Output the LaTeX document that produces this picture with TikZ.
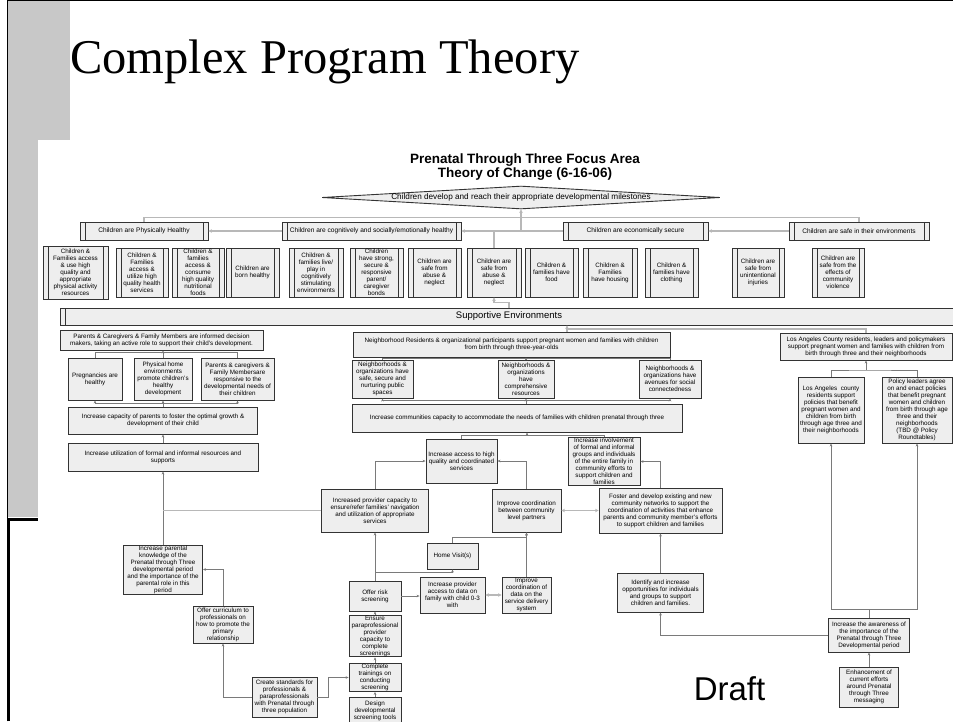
\documentclass[tikz,border=0pt]{standalone}
\usepackage{fontspec}
\setmainfont{Liberation Sans}
\setsansfont{Liberation Sans}
\newfontfamily\titlefont{Liberation Serif}
\usepackage{xcolor}
\usetikzlibrary{shapes.geometric, arrows.meta, positioning, calc}

\definecolor{boxfill}{HTML}{EEEEEE}
\definecolor{boxline}{HTML}{333333}
\definecolor{linegray}{HTML}{7A7A7A}
\definecolor{lightline}{HTML}{B8B8B8}
\definecolor{slidegray}{HTML}{C8C8C8}

\newcommand\boxfont{\fontsize{6.3}{7}\selectfont}
\newcommand\goalfont{\fontsize{6.6}{7.5}\selectfont}
\newcommand\diafont{\fontsize{8.2}{9}\selectfont}
\newcommand\supfont{\fontsize{9.5}{11}\selectfont}

\begin{document}
\begin{tikzpicture}[
    x=1pt, y=-1pt,
    box/.style={rectangle, draw=boxline, fill=boxfill, line width=0.9pt, align=center, inner sep=0.5pt, font=\boxfont},
    sz/.style 2 args={minimum width=#1, minimum height=#2},
    proc/.style={box, path picture={
        \draw[boxline, line width=0.9pt]
            ([xshift=5pt]path picture bounding box.north west) -- ([xshift=5pt]path picture bounding box.south west)
            ([xshift=-5pt]path picture bounding box.north east) -- ([xshift=-5pt]path picture bounding box.south east);}},
    arr/.style={-{Stealth[length=3pt, width=2.6pt]}, line width=0.6pt, draw=linegray},
    gline/.style={line width=0.6pt, draw=linegray},
    lline/.style={line width=1.4pt, draw=lightline},
    larr/.style={lline, -{Stealth[length=3.5pt, width=3.5pt]}},
    ldarr/.style={lline, {Stealth[length=3.5pt, width=3.5pt]}-{Stealth[length=3.5pt, width=3.5pt]}},
]
\useasboundingbox (0,0) rectangle (953,721);

% ======== SLIDE FRAME ========
\fill[slidegray] (8,0) rectangle (70,140);
\fill[slidegray] (8,140) rectangle (38,517);
\draw[black, line width=1.5pt] (7.5,721) -- (7.5,0.7) -- (953,0.7);
\draw[black, line width=3pt] (8,721) -- (8,519) -- (38,519);
\node[font=\titlefont\fontsize{48.5}{54}\selectfont, anchor=base west, inner sep=0pt] (title) at (70,73) {Complex Program Theory};

% ======== GOALS (top) ========
\node[font=\bfseries\fontsize{13.5}{14.5}\selectfont, align=center] (head) at (525,167) {Prenatal Through Three Focus Area\\Theory of Change (6-16-06)};
\node[diamond, draw=boxline, fill=boxfill, line width=0.9pt, aspect=17.3, inner sep=0pt,
      minimum width=398, minimum height=23, font=\diafont] (goal) at (521,197.5)
      {Children develop and reach their appropriate developmental milestones};

\node[proc, sz={128}{18}, font=\goalfont] (gph) at (144,231) {Children are Physically Healthy};
\node[proc, sz={179}{18}, font=\goalfont] (gcog) at (371.5,231) {Children are cognitively and socially/emotionally healthy};
\node[proc, sz={145}{18}, font=\goalfont] (gecon) at (635.5,231) {Children are economically secure};
\node[proc, sz={140}{18}, font=\goalfont] (gsafe) at (859,231) {Children are safe in their environments};

\draw[lline] (gph.north) -- ++(0,-4) -| (gsafe.north);
\draw[larr] (gcog.west) -- (gph.east);
\draw[larr] (gecon.west) -- (gcog.east);
\draw[larr] (gsafe.west) -- (gecon.east);
\draw[larr] (gcog.east -| goal.south) -- (goal.south);

% ======== OUTCOMES ROW ========
\node[proc, sz={65}{53}] (oa) at (75.5,272.5) {Children \&\\Families access\\\& use high\\quality and\\appropriate\\physical activity\\resources};
\node[proc, sz={52}{49}] (ob) at (142,272.5) {Children \&\\Families\\access \&\\utilize high\\quality health\\services};
\node[proc, sz={52}{49}] (oc) at (198,272.5) {Children \&\\families\\access \&\\consume\\high quality\\nutritional\\foods};
\node[proc, sz={53}{49}] (od) at (252.5,272.5) {Children are\\born healthy};
\node[proc, sz={54}{49}] (oe) at (316,272.5) {Children \&\\families live/\\play in\\cognitively\\stimulating\\environments};
\node[proc, sz={53}{49}] (of) at (376.5,272.5) {Children\\have strong,\\secure \&\\responsive\\parent/\\caregiver\\bonds};
\node[proc, sz={53}{49}] (og) at (434.5,272.5) {Children are\\safe from\\abuse \&\\neglect};
\node[proc, sz={54}{49}] (oh) at (494,272.5) {Children are\\safe from\\abuse \&\\neglect};
\node[proc, sz={53}{49}] (oi) at (551.5,272.5) {Children \&\\families have\\food};
\node[proc, sz={54}{49}] (oj) at (610,272.5) {Children \&\\Families\\have housing};
\node[proc, sz={53}{49}] (ok) at (671.5,272.5) {Children \&\\families have\\clothing};
\node[proc, sz={52}{49}] (ol) at (758,272.5) {Children are\\safe from\\unintentional\\injuries};
\node[proc, sz={52}{49}] (om) at (838,272.5) {Children are\\safe from the\\effects of\\community\\violence};

\draw[lline] (oh.north) -- (oh.north |- gcog.east);

% ======== SUPPORTIVE ENVIRONMENTS ========
\node[proc, sz={898}{17}, font=\supfont] (sup) at (509,316.5) {Supportive Environments};
\draw[larr] (sup.north) -- ++(0,-5) -| (oh.south);

% ======== PARENT PATH (left) ========
\node[box, sz={203}{20}] (pinf) at (161.5,340) {Parents \& Caregivers \& Family Members are informed decision\\makers, taking an active role to support their child's development.};
\node[box, sz={54}{42}] (ppreg) at (95,379) {Pregnancies are\\healthy};
\node[box, sz={58}{42}] (phome) at (163,379) {Physical home\\environments\\promote children's\\healthy\\development};
\node[box, sz={73}{42}] (presp) at (237.5,379) {Parents \& caregivers \&\\Family Membersare\\responsive to the\\developmental needs of\\their children};
\node[box, sz={189}{27}] (pcap) at (163,420.5) {Increase capacity of parents to foster the optimal growth \&\\development of their child};
\node[box, sz={190}{28}] (putil) at (163,457) {Increase utilization of formal and informal resources and\\supports};
\node[box, sz={79}{49}] (pknow) at (163,569.5) {Increase parental\\knowledge of the\\Prenatal through Three\\developmental period\\and the importance of the\\parental role in this\\period};
\node[box, sz={60}{37}] (pcurr) at (223,624.5) {Offer curriculum to\\professionals on\\how to promote the\\primary\\relationship};
\node[box, sz={65}{40}] (pstd) at (284.5,697) {Create standards for\\professionals \&\\paraprofessionals\\with Prenatal through\\three population};

\draw[gline] (ppreg.north) -- ++(0,-5) -| (presp.north);
\draw[arr] (phome.north) -- (pinf.south -| phome.north);
\draw[arr] (pcap.north) -- (phome.south);
\draw[arr] ($(pcap.north)+(0,-3.5)$) -| (ppreg.south);
\draw[arr] ($(pcap.north)+(0,-3.5)$) -| (presp.south);
\draw[arr] (putil.north) -- (pcap.south);
\draw[arr] (pknow.north) -- (putil.south);
\draw[arr] (pcurr.north) |- (pknow.east);
\draw[arr] (pstd.west) -| (pcurr.south);

% ======== COMMUNITY PATH (middle) ========
\node[box, sz={317}{25}] (nres) at (511.5,344.5) {Neighborhood Residents \& organizational participants support pregnant women and families with children\\from birth through three-year-olds};
\node[box, sz={61}{38}] (nsafe) at (382.5,379) {Neighborhoods \&\\organizations have\\safe, secure and\\nurturing public\\spaces};
\node[box, sz={56}{38}] (ncomp) at (526,379) {Neighborhoods \&\\organizations\\have\\comprehensive\\resources};
\node[box, sz={62}{38}] (nconn) at (670,379) {Neighborhoods \&\\organizations have\\avenues for social\\connectedness};
\node[box, sz={330}{28}] (ncap) at (517,418) {Increase communities capacity to accommodate the needs of families with children prenatal through three};

\node[box, sz={71}{44}] (macc) at (461.5,461) {Increase access to high\\quality and coordinated\\services};
\node[box, sz={72}{45}] (minv) at (604,461.5) {Increase involvement\\of formal and informal\\groups and individuals\\of the entire family in\\community efforts to\\support children and\\families};
\node[box, sz={107}{43}] (mprov) at (375,510.5) {Increased provider capacity to\\ensure/refer families' navigation\\and utilization of appropriate\\services};
\node[box, sz={69}{43}] (mcoord) at (526.5,510.5) {Improve coordination\\between community\\level partners};
\node[box, sz={123}{45}] (mfost) at (660.5,510.5) {Foster and develop existing and new\\community networks to support the\\coordination of activities that enhance\\parents and community member's efforts\\to support children and families};
\node[box, sz={51}{26}] (mhome) at (452.5,556) {Home Visit(s)};
\node[box, sz={52}{30}] (mrisk) at (375,596) {Offer risk\\screening};
\node[box, sz={65}{36}] (mdata) at (452.5,595) {Increase provider\\access to data on\\family with child 0-3\\with};
\node[box, sz={49}{36}] (mcdata) at (526.5,595) {Improve\\coordination of\\data on the\\service delivery\\system};
\node[box, sz={52}{40}] (mpara) at (375,636) {Ensure\\paraprofessional\\provider\\capacity to\\complete\\screenings};
\node[box, sz={52}{27}] (mtrain) at (375,677.5) {Complete\\trainings on\\conducting\\screening};
\node[box, sz={52}{28}] (mdesign) at (375,711) {Design\\developmental\\screening tools};

\coordinate (sj) at (567,329);
\draw[larr] (sj) -- (sj |- sup.south);
\draw[lline] (sj) -- (sj |- nres.north);
\draw[gline] (nsafe.north) -- ++(0,-1.5) -| (nconn.north);
\draw[arr] (ncomp.north) -- (ncomp.north |- nres.south);
\draw[arr] (ncomp.south |- ncap.north) -- (ncomp.south);
\draw[arr] ($(ncomp.south |- ncap.north)+(0,-3)$) -| (nsafe.south);
\draw[arr] ($(ncomp.south |- ncap.north)+(0,-3)$) -| (nconn.south);

\coordinate (cb) at (527,435.5);
\draw[gline] (macc.north) |- (cb) -| (minv.north);
\draw[arr] (cb) -- (cb |- ncap.south);
\draw[arr] (mprov.north) |- (macc.west);
\draw[arr] (mcoord.north) |- (macc.east);
\draw[arr] (mfost.north) |- (minv.east);
\draw[ldarr] (mcoord.east) -- (mfost.west);
\draw[lline] (mprov.west) -- (mprov.west -| putil.south);

\coordinate (hb) at (452.5,537);
\draw[gline] (mhome.north) -- (hb);
\draw[arr] (hb) -| (mcoord.south);
\draw[arr] (mrisk.north) -- (mprov.south);
\draw[arr] ($(mrisk.north)+(0,-8)$) -| (mhome.south);
\draw[arr] (mrisk.east) -- (mrisk.east -| mdata.west);
\draw[ldarr] (mdata.east) -- (mcdata.west);
\draw[arr] (mcdata.north) -- (mcoord.south);
\draw[arr] (mpara.north) -- (mrisk.south);
\draw[arr] (mtrain.north) -- (mpara.south);
\draw[arr] (mdesign.north) -- (mtrain.south);
\draw[arr] (pstd.east) -- ++(11,0) |- (mtrain.west);

% ======== COUNTY PATH (right) ========
\node[box, sz={172}{27}] (rla) at (866,346.5) {Los Angeles County residents, leaders and policymakers\\support pregnant women and families with children from\\birth through three and their neighborhoods};
\node[box, sz={66}{66}] (rres) at (831,410) {Los Angeles~ county\\residents support\\policies that benefit\\pregnant women and\\children from birth\\through age three and\\their neighborhoods};
\node[box, sz={70}{66}] (rpol) at (917,410) {Policy leaders agree\\on and enact policies\\that benefit pregnant\\women and children\\from birth through age\\three and their\\neighborhoods\\(TBD @ Policy\\Roundtables)};
\node[box, sz={86}{39}] (rident) at (660.5,592.5) {Identify and increase\\opportunities for individuals\\and groups to support\\children and families.};
\node[box, sz={81}{34}] (raware) at (869,635) {Increase the awareness of\\the importance of the\\Prenatal through Three\\Developmental period};
\node[box, sz={59}{40}] (renh) at (869,687) {Enhancement of\\current efforts\\around Prenatal\\through Three\\messaging};
\node[font=\fontsize{33}{36}\selectfont] (draft) at (729.5,689) {Draft};

\draw[lline] (rla.north) -- (rla.north |- sj) -- (sj);
\coordinate (lb) at (866,370);
\draw[arr] (lb) -- (rla.south);
\draw[gline] (rres.north) |- (lb) -| (rpol.north);
\coordinate (ab) at (869,609);
\draw[gline] (raware.north) -- (ab);
\draw[arr] (ab) -| (rres.south);
\draw[arr] (ab) -| (rpol.south);
\draw[arr] (raware.west) -| (rident.south);
\draw[arr] (rident.north) -- (mfost.south);
\draw[arr] (renh.north) -- (raware.south);

\end{tikzpicture}
\end{document}
